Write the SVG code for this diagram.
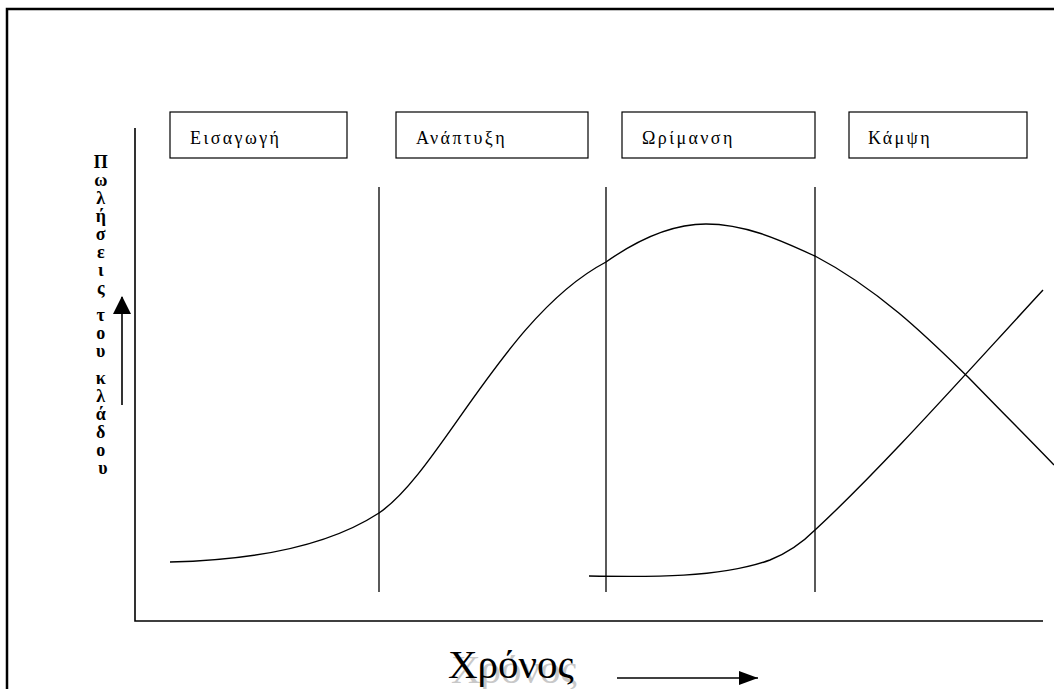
<svg xmlns="http://www.w3.org/2000/svg" width="1054" height="689" viewBox="0 0 1054 689">
  <style>
    .frame { fill: none; stroke: #000; stroke-width: 2.5; }
    .axis { fill: none; stroke: #000; stroke-width: 1.6; }
    .stage { fill: #fff; stroke: #000; stroke-width: 1.2; }
    .divider { fill: none; stroke: #000; stroke-width: 1.3; }
    .curve { fill: none; stroke: #000; stroke-width: 1.4; }
    .label { font-family: "Liberation Serif", "DejaVu Serif", serif; font-size: 18px; letter-spacing: 2.4px; fill: #000; }
    .ylabel { font-family: "Liberation Serif", "DejaVu Serif", serif; font-size: 18px; font-weight: bold; fill: #000; text-anchor: middle; }
    .xlabel { font-family: "Liberation Serif", "DejaVu Serif", serif; font-size: 41px; }
  </style>
  <defs>
    <marker id="head" markerWidth="18" markerHeight="18" refX="17" refY="9" orient="auto" markerUnits="userSpaceOnUse" viewBox="0 0 18 18">
      <path d="M0,0 L18,9 L0,18 Z" fill="#000"/>
    </marker>
    <marker id="headBig" markerWidth="19" markerHeight="14" refX="19" refY="7" orient="auto" markerUnits="userSpaceOnUse" viewBox="0 0 19 14">
      <path d="M0,0 L19,7 L0,14 Z" fill="#000"/>
    </marker>
  </defs>

  <rect width="1054" height="689" fill="#fff"/>

  <!-- page frame -->
  <path class="frame" d="M7,689 L7,9 L1054,9"/>

  <!-- axes -->
  <g id="axes">
    <path class="axis" d="M135,128 L135,621 L1043,621"/>
  </g>

  <!-- stage labels -->
  <g id="stage-intro">
    <rect class="stage" x="170" y="112" width="177" height="46"/>
    <text class="label" x="190" y="144">Εισαγωγή</text>
  </g>
  <g id="stage-growth">
    <rect class="stage" x="396" y="112" width="192" height="46"/>
    <text class="label" x="416" y="144">Ανάπτυξη</text>
  </g>
  <g id="stage-maturity">
    <rect class="stage" x="622" y="112" width="193" height="46"/>
    <text class="label" x="642" y="144">Ωρίμανση</text>
  </g>
  <g id="stage-decline">
    <rect class="stage" x="849" y="112" width="178" height="46"/>
    <text class="label" x="868" y="144">Κάμψη</text>
  </g>

  <!-- stage dividers -->
  <g id="dividers">
    <line class="divider" x1="379" y1="187" x2="379" y2="592"/>
    <line class="divider" x1="606" y1="187" x2="606" y2="592"/>
    <line class="divider" x1="815" y1="187" x2="815" y2="592"/>
  </g>

  <!-- sales curves -->
  <g id="curves">
    <path class="curve" d="M170,562 C260,560 330,545 379,513 C440,472 505,315 606,262 C640,238 675,224 706,224 C750,224 790,245 815,256 C880,290 930,340 968,377 C1000,410 1030,440 1054,465"/>
    <path class="curve" d="M589,576 C650,577 720,578 770,560 C790,552 803,542 815,530 C880,470 960,380 1043,290"/>
  </g>

  <!-- y-axis caption -->
  <g id="y-caption">
    <line class="axis" x1="122" y1="405" x2="122" y2="297" marker-end="url(#head)"/>
    <text class="ylabel">
      <tspan x="103" y="168">Π</tspan>
      <tspan x="103" y="186">ω</tspan>
      <tspan x="103" y="204">λ</tspan>
      <tspan x="103" y="222">ή</tspan>
      <tspan x="103" y="240">σ</tspan>
      <tspan x="103" y="258">ε</tspan>
      <tspan x="103" y="276">ι</tspan>
      <tspan x="103" y="294">ς</tspan>
      <tspan x="103" y="321">τ</tspan>
      <tspan x="103" y="339">ο</tspan>
      <tspan x="103" y="357">υ</tspan>
      <tspan x="103" y="384">κ</tspan>
      <tspan x="103" y="402">λ</tspan>
      <tspan x="103" y="420">ά</tspan>
      <tspan x="103" y="438">δ</tspan>
      <tspan x="103" y="456">ο</tspan>
      <tspan x="103" y="474">υ</tspan>
    </text>
  </g>

  <!-- x-axis caption -->
  <g id="x-caption">
    <text class="xlabel" x="451" y="683" fill="#c8c8c8">Χρόνος</text>
    <text class="xlabel" x="448" y="678" fill="#000">Χρόνος</text>
    <line class="axis" x1="617" y1="678" x2="758" y2="678" marker-end="url(#headBig)"/>
  </g>
</svg>
